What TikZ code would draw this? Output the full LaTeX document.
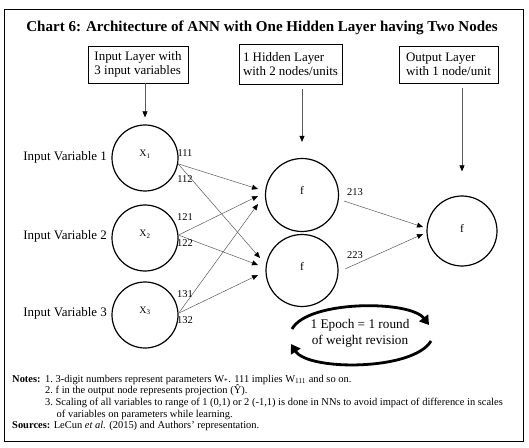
\documentclass[tikz,border=0pt]{standalone}
\usepackage{fontspec}
\setmainfont{Liberation Serif}
\usetikzlibrary{arrows.meta,calc}
\tikzset{
  frame/.style={draw=black, line width=1bp},
  layerbox/.style={draw=black, line width=0.8bp, align=left, inner sep=0pt,
    font=\fontsize{13}{14.5}\selectfont},
  neuron/.style={draw=black, line width=1.2bp, circle, inner sep=0pt},
  inlab/.style={font=\fontsize{13}{14}\selectfont, inner sep=0pt, anchor=east},
  wlab/.style={font=\fontsize{10.5}{12}\selectfont, inner sep=0pt},
  conn/.style={draw=black!65, line width=0.5bp, -{Triangle[length=6bp,width=5bp,color=black]}},
  epocharrow/.style={draw=black, line width=2.8bp, -{Triangle[length=9bp,width=11bp]}},
  epochtxt/.style={font=\fontsize{13.3}{16}\selectfont, align=center, inner sep=0pt},
  note/.style={font=\fontsize{10.5}{11}\selectfont, inner sep=0pt, anchor=base west},
}
\begin{document}
\begin{tikzpicture}[x=1bp,y=-1bp]
\useasboundingbox (0,0) rectangle (529,448);
\draw[frame] (4,10) rectangle (523,441);

\node[font=\fontsize{15.1}{17}\selectfont\bfseries, inner sep=0pt] (title) at (262,28)
  {Chart 6: Architecture of ANN with One Hidden Layer having Two Nodes};

% layer boxes
\node[layerbox, minimum width=100bp, minimum height=37bp] (b1) at (138,64.5) {Input Layer with\\3 input variables};
\node[layerbox, minimum width=103bp, minimum height=40bp] (b2) at (290.5,64) {1 Hidden Layer\\with 2 nodes/units};
\node[layerbox, minimum width=99bp, minimum height=37bp] (b3) at (448.5,64.5) {Output Layer\\with 1 node/unit};

% neurons
\node[neuron, minimum size=66bp, label={[font=\fontsize{10}{12}\selectfont, yshift=4bp]center:X\textsubscript{1}}] (X1) at (145,158) {};
\node[neuron, minimum size=66bp, label={[font=\fontsize{10}{12}\selectfont, yshift=4bp]center:X\textsubscript{2}}] (X2) at (145,238) {};
\node[neuron, minimum size=66bp, label={[font=\fontsize{10}{12}\selectfont, yshift=4bp]center:X\textsubscript{3}}] (X3) at (145,315) {};
\node[neuron, minimum size=73bp, label={[font=\fontsize{11.5}{12}\selectfont, yshift=5bp]center:f}] (f1) at (302,195) {};
\node[neuron, minimum size=72bp, label={[font=\fontsize{11.5}{12}\selectfont, yshift=4bp]center:f}] (f2) at (302,270.5) {};
\node[neuron, minimum size=70bp, label={[font=\fontsize{11.5}{12}\selectfont, yshift=3bp]center:f}] (out) at (462,231) {};

% input labels
\node[inlab] (iv1) at (107,157) {Input Variable 1};
\node[inlab] (iv2) at (107,236) {Input Variable 2};
\node[inlab] (iv3) at (107,313) {Input Variable 3};

% box arrows
\draw[conn, shorten >=7bp] (X1.north |- b1.south) -- (X1.north);
\draw[conn, shorten <=5bp, shorten >=16bp] (f1.north |- b2.south) -- (f1.north);
\draw[conn, shorten <=5bp, shorten >=24bp] (out.north |- b3.south) -- (out.north);

% arrow tip coordinates
\coordinate (t11) at ($(f1.center)+(-44,-6)$);
\coordinate (t21) at ($(f1.center)+(-44,1)$);
\coordinate (t31) at ($(f1.center)+(-44,9)$);
\coordinate (t12) at ($(f2.center)+(-42,-12.5)$);
\coordinate (t22) at ($(f2.center)+(-44,-5.5)$);
\coordinate (t32) at ($(f2.center)+(-44,4.5)$);
\coordinate (s1) at ($(f1.center)+(42,6)$);
\coordinate (s2) at ($(f2.center)+(43,-1.5)$);
\coordinate (to1) at ($(out.center)+(-39,-4)$);
\coordinate (to2) at ($(out.center)+(-39,3)$);

\draw[conn] (X1.-10) -- (t11);
\draw[conn] (X1.-10) -- (t12);
\draw[conn] (X2.5) -- (t21);
\draw[conn] (X2.5) -- (t22);
\draw[conn] (X3.3) -- (t31);
\draw[conn] (X3.3) -- (t32);
\draw[conn] (s1) -- (to1);
\draw[conn] (s2) -- (to2);

% weight labels
\node[wlab] (w111) at (185,153) {111};
\node[wlab] (w112) at (185,179) {112};
\node[wlab] (w121) at (185,217) {121};
\node[wlab] (w122) at (185,243) {122};
\node[wlab] (w131) at (185,294) {131};
\node[wlab] (w132) at (185,320) {132};
\node[wlab] (w213) at (355,192) {213};
\node[wlab] (w223) at (355,255) {223};

% epoch
\node[epochtxt] (ep) at (360,333) {1 Epoch = 1 round\\of weight revision};
\coordinate (ea1) at (292,329);
\coordinate (ea2) at (429,325);
\coordinate (eb1) at (431,341);
\coordinate (eb2) at (291,344);
\draw[epocharrow] (ea1) .. controls (308,300) and (410,300) .. (ea2);
\draw[epocharrow] (eb1) .. controls (413,371) and (308,371) .. (eb2);

% notes
\node[note] (n0) at (12,382) {\textbf{Notes:}};
\node[note] (n1) at (45,382) {1.\ 3-digit numbers represent parameters W\textsubscript{*}. 111 implies W\textsubscript{111} and so on.};
\node[note] (n2) at (45,393.7) {2.\ f in the output node represents projection (\^{Y}).};
\node[note] (n3) at (45,405.4) {3.\ Scaling of all variables to range of 1 (0,1) or 2 (-1,1) is done in NNs to avoid impact of difference in scales};
\node[note] (n4) at (56.5,417) {of variables on parameters while learning.};
\node[note] (n5) at (12,428.7) {\textbf{Sources:} LeCun \textit{et al}. (2015) and Authors' representation.};
\end{tikzpicture}
\end{document}
